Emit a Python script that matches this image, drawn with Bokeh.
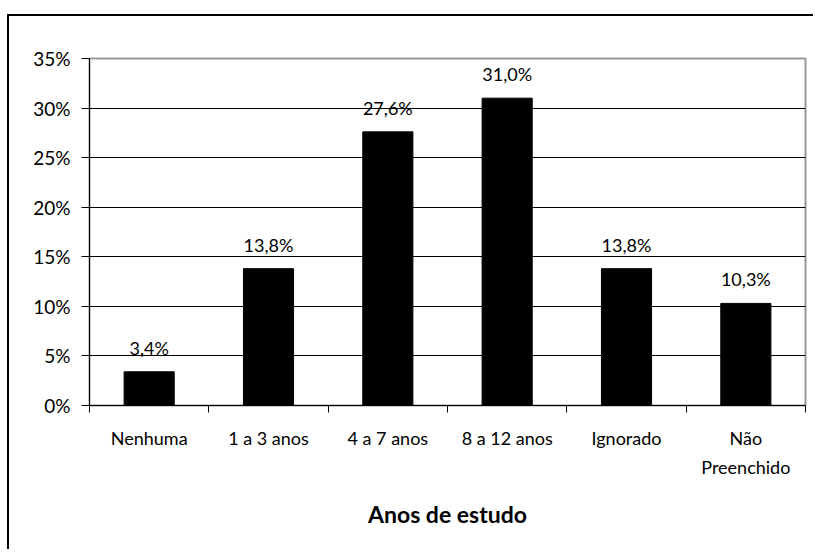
from bokeh.plotting import figure
from bokeh.models import (ColumnDataSource, Range1d, LinearAxis,
                          FixedTicker, CustomJSTickFormatter)
from bokeh.core.properties import value
from bokeh.embed import file_html
from bokeh.resources import INLINE

categories = ["Nenhuma", "1 a 3 anos", "4 a 7 anos", "8 a 12 anos", "Ignorado", "Não\nPreenchido"]
percent = [3.4, 13.8, 27.6, 31.0, 13.8, 10.3]
labels = ["3,4%", "13,8%", "27,6%", "31,0%", "13,8%", "10,3%"]
y_ticks = [0, 5, 10, 15, 20, 25, 30, 35]
y_tick_labels = {t: f"{t}%" for t in y_ticks}

FONT = "Lato"

n = len(categories)
centers = [i + 0.5 for i in range(n)]
src = ColumnDataSource(dict(x=centers, cat=categories, pct=percent, lab=labels))

p = figure(x_range=Range1d(0, n), y_range=Range1d(0, 35),
           width=806, height=535, output_backend="svg", toolbar_location=None,
           x_axis_location=None, y_axis_location="left",
           min_border_left=80, min_border_right=10, min_border_top=42, min_border_bottom=146)
p.styles = {"border-top": "2px solid black", "border-left": "2px solid black",
            "margin-top": "14px", "margin-left": "7px"}

p.vbar(x="x", top="pct", width=0.42, source=src, fill_color="black", line_color="black")
p.text(x="x", y="pct", text="lab", source=src, text_align="center", text_baseline="bottom",
       y_offset=-13, text_font=value(FONT), text_font_size="18px", text_color="black")

# y axis
ya = p.yaxis[0]
ya.ticker = FixedTicker(ticks=y_ticks)
ya.major_label_overrides = y_tick_labels
ya.major_label_text_font = FONT
ya.major_label_text_font_size = "19px"
ya.major_label_text_color = "black"
ya.major_tick_in = 0
ya.major_tick_out = 8
ya.minor_tick_line_color = None
ya.axis_line_color = "black"
ya.major_tick_line_color = "black"
ya.major_label_standoff = 11

p.ygrid.ticker = FixedTicker(ticks=y_ticks[1:-1])
p.ygrid.grid_line_color = "black"
p.xgrid.grid_line_color = None
p.outline_line_color = "#999999"
p.outline_line_width = 2

# boundary ticks axis
ta = LinearAxis(ticker=FixedTicker(ticks=list(range(n + 1))),
                formatter=CustomJSTickFormatter(code="return ''"))
ta.major_tick_in = 0
ta.major_tick_out = 7
ta.minor_tick_line_color = None
ta.axis_line_color = "black"
ta.major_tick_line_color = "black"
ta.major_label_text_font_size = "1px"
ta.major_label_standoff = 0
p.add_layout(ta, "below")

# category label axis
ca = LinearAxis(ticker=FixedTicker(ticks=centers))
ca.major_label_overrides = {c: name for c, name in zip(centers, categories)}
ca.axis_line_color = None
ca.major_tick_line_color = None
ca.minor_tick_line_color = None
ca.major_label_text_font = FONT
ca.major_label_text_font_size = "18px"
ca.major_label_text_line_height = 1.35
ca.major_label_text_color = "black"
ca.major_label_standoff = 8
ca.axis_label = "Anos de estudo"
ca.axis_label_text_font = FONT
ca.axis_label_text_font_style = "bold"
ca.axis_label_text_font_size = "23px"
ca.axis_label_text_color = "black"
ca.axis_label_standoff = 19
p.add_layout(ca, "below")

open("out.html", "w").write(file_html(p, INLINE))
